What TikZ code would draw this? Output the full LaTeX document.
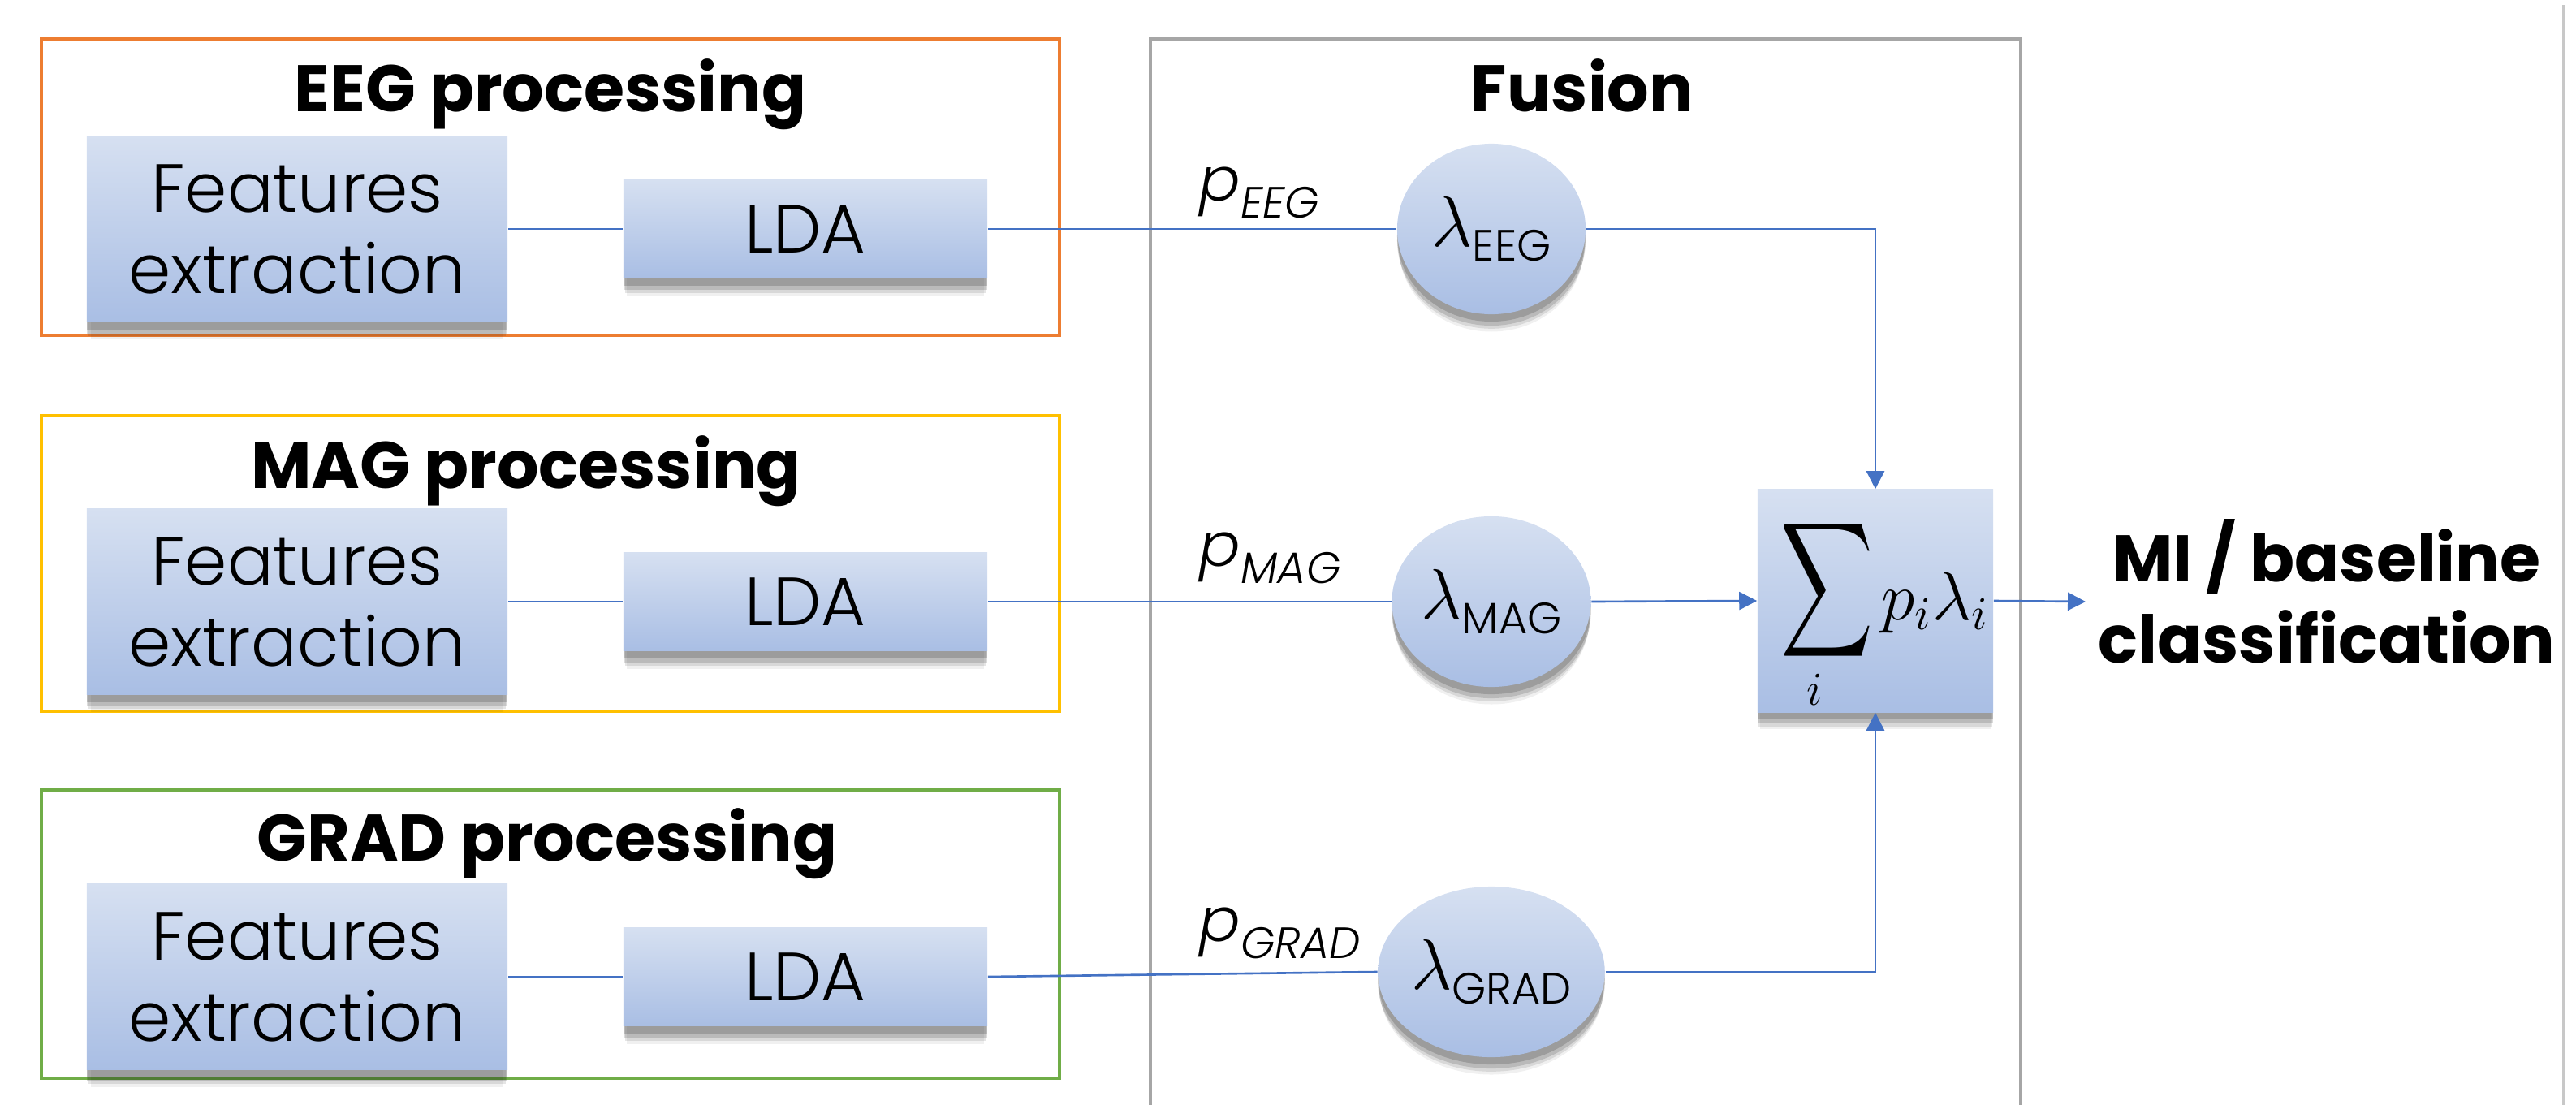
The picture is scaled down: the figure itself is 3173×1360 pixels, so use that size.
\documentclass[tikz,border=0pt]{standalone}
\usepackage{amsmath}
\usepackage{graphicx}
\usepackage{fontspec}
\setmainfont{Poppins}
\newfontfamily\lightfont{Poppins}[UprightFont={* Light},ItalicFont={* Light Italic}]
\usetikzlibrary{shapes.geometric,shadows,arrows.meta}
\definecolor{connc}{HTML}{4472C4}
\definecolor{boxtop}{HTML}{D6E0F1}
\definecolor{boxbot}{HTML}{A9BEE4}
\definecolor{eegc}{HTML}{ED7D31}
\definecolor{magc}{HTML}{FFC000}
\definecolor{gradc}{HTML}{70AD47}
\definecolor{fusc}{HTML}{A6A6A6}
\definecolor{edgec}{HTML}{C8C8C8}
\tikzset{
  frame/.style={line width=1pt},
  shadowed/.style={
    general shadow={shadow xshift=0mm, shadow yshift=-2.4mm, shadow scale=0.98, fill=black, opacity=0.06},
    general shadow={shadow xshift=0mm, shadow yshift=-1.9mm, shadow scale=0.99, fill=black, opacity=0.10},
    general shadow={shadow xshift=0mm, shadow yshift=-1.4mm, fill=black, opacity=0.14},
    general shadow={shadow xshift=0mm, shadow yshift=-0.9mm, fill=black, opacity=0.16}},
  bluebox/.style={rectangle, top color=boxtop, bottom color=boxbot, draw=none, shadowed, inner sep=0pt, align=center},
  featbox/.style={bluebox, minimum width=5.18cm, minimum height=2.29cm, font=\lightfont\fontsize{8.4mm}{10mm}\selectfont},
  ldabox/.style={bluebox, minimum width=4.48cm, minimum height=1.21cm, font=\lightfont\fontsize{8.4mm}{10mm}\selectfont},
  sumbox/.style={bluebox, minimum width=2.90cm, minimum height=2.74cm},
  lam/.style={ellipse, top color=boxtop, bottom color=boxbot, draw=none, shadowed, minimum width=2.32cm, minimum height=2.10cm, inner sep=0pt, font=\fontsize{17.28pt}{20pt}\selectfont},
  title/.style={font=\bfseries\fontsize{8.1mm}{9mm}\selectfont, anchor=base, inner sep=0pt},
  plab/.style={font=\lightfont\itshape\fontsize{7.5mm}{8mm}\selectfont, anchor=base west, inner sep=0pt},
  conn/.style={draw=connc, line width=0.75pt},
  arr/.style={conn, -{Triangle[length=2.2mm,width=2.2mm]}},
}
\newcommand{\lam}{\scalebox{1.45}{$\lambda$}}
\newcommand{\lsub}[1]{\raisebox{-1.8mm}{\lightfont\fontsize{5.4mm}{6mm}\selectfont #1}}
\newcommand{\psub}[1]{\raisebox{-2.1mm}{\lightfont\itshape\fontsize{5.4mm}{6mm}\selectfont #1}}
\newcommand{\bigsig}{\mathop{\raisebox{2mm}{$\vcenter{\hbox{\scalebox{1.3}[1.9]{$\displaystyle\sum$}}}$}}\limits}
\begin{document}
\begin{tikzpicture}[x=0.01cm,y=-0.01cm]
\useasboundingbox (0,0) rectangle (3173,1360);
% frames
\draw[frame, draw=eegc] (51,48) rectangle (1305,413);
\draw[frame, draw=magc] (51,512) rectangle (1305,876);
\draw[frame, draw=gradc] (51,973) rectangle (1305,1328);
\draw[frame, draw=fusc] (1417,1370) -- (1417,48) -- (2489,48) -- (2489,1370);
\draw[line width=1pt, draw=edgec] (3158,6) -- (3158,1370);
% titles
\node[title] (t1) at (678,137) {EEG processing};
\node[title] (t2) at (648,601) {MAG processing};
\node[title] (t3) at (674,1060) {GRAD processing};
\node[title] (t4) at (1949,137) {Fusion};
% row EEG
\node[featbox] (f1) at (366,282) {Features\\extraction};
\node[ldabox] (l1) at (992,282) {LDA};
\node[lam] (e1) at (1837,282) {\lam\lsub{EEG}};
% row MAG
\node[featbox] (f2) at (366,741) {Features\\extraction};
\node[ldabox] (l2) at (992,741) {LDA};
\node[lam] (e2) at (1837,741) {\lam\lsub{MAG}};
% row GRAD
\node[featbox] (f3) at (366,1203) {Features\\extraction};
\node[ldabox] (l3) at (992,1203) {LDA};
\node[lam] (e3) at (1837,1197) {\lam\lsub{GRAD}};
% sum
\node[sumbox] (s) at (2310,740) {};
\node[inner sep=0pt, font=\fontsize{17.28pt}{20pt}\selectfont] (sc) at (2322,755) {$\bigsig_{\scalebox{1.38}{$\scriptstyle i$}} \scalebox{1.38}{$p_i\lambda_i$}$};
% p labels
\node[plab] (p1) at (1477,247) {p\psub{EEG}};
\node[plab] (p2) at (1477,697) {p\psub{MAG}};
\node[plab] (p3) at (1477,1159) {p\psub{GRAD}};
% output
\node[font=\bfseries\fontsize{8.1mm}{10mm}\selectfont, align=center, inner sep=0pt] (out) at (2866,728) {MI / baseline\\classification};
\coordinate (oend) at (2569,741);
% connectors
\draw[conn] (f1.east) -- (l1.west);
\draw[conn] (l1.east) -- (e1.west);
\draw[conn] (f2.east) -- (l2.west);
\draw[conn] (l2.east) -- (e2.west);
\draw[conn] (f3.east) -- (l3.west);
\draw[conn] (l3.east) -- (e3.west);
\draw[arr] (e1.east) -| (s.north);
\draw[arr] (e2.east) -- (s.west);
\draw[arr] (e3.east) -| (s.south);
\draw[arr] (s.east) -- (oend);
\end{tikzpicture}
\end{document}
